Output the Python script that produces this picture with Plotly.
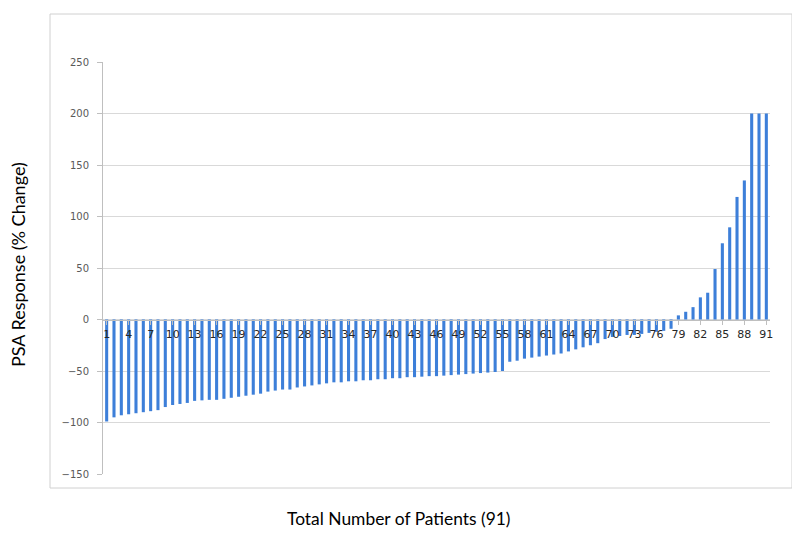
import plotly.graph_objects as go

# patients 1..91, PSA % change
patients = list(range(1, 92))
psa_change = [
    -99, -95, -93, -92, -91, -90, -89, -88, -85, -83,
    -82, -81, -79, -78.5, -78, -78, -77, -76, -75, -74,
    -73, -72, -70, -69, -68, -68, -66, -65, -64, -63,
    -62, -61, -61, -60, -60, -59, -59, -58, -58, -57,
    -57, -56, -56, -55.5, -55, -55, -54.5, -54, -53.5, -53,
    -52.5, -52, -51.5, -51, -50, -41, -40, -38, -37, -36,
    -35, -34, -33, -31, -29, -27, -25, -23, -19, -17,
    -16, -15, -15, -14, -13, -12, -11, -9, 4, 7.5,
    12, 21.5, 26, 49, 74, 89.5, 119, 135, 200, 200, 200,
]
x_ticks = [str(p) for p in patients if (p - 1) % 3 == 0]
y_ticks = [-150, -100, -50, 0, 50, 100, 150, 200, 250]

fig = go.Figure()
fig.add_trace(go.Bar(
    x=[str(p) for p in patients], y=psa_change,
    marker=dict(color="#3d7fd9", line=dict(width=0)),
    hoverinfo="x+y",
))

# page body has an 8px margin, so everything is laid out 8px up/left
OFF = 8
L, R, T, B = 103 - OFF, 22, 62 - OFF, 58
W, H = 784, 524
pw, ph = W - L - R, H - T - B

fig.update_layout(
    width=W, height=H,
    margin=dict(l=L, r=R, t=T, b=B),
    paper_bgcolor="white", plot_bgcolor="white",
    bargap=0.58, showlegend=False,
    font=dict(family="DejaVu Sans", color="#595959"),
)
fig.update_yaxes(
    range=[-150, 250], tickvals=y_ticks,
    showgrid=True, gridcolor="#d9d9d9", gridwidth=1,
    zeroline=False, showline=True, linecolor="#bfbfbf", linewidth=1,
    ticks="outside", ticklen=5, tickcolor="#bfbfbf",
    tickfont=dict(size=10, color="#595959", family="DejaVu Sans"),
    ticklabelstandoff=6,
)
fig.update_xaxes(
    type="category", categoryorder="array", categoryarray=[str(p) for p in patients],
    range=[-0.5, 90.5],
    anchor="free", position=150 / 400,
    tickvals=x_ticks, ticktext=x_ticks,
    showline=True, linecolor="#bfbfbf", linewidth=1,
    ticks="outside", ticklen=4, tickcolor="#bfbfbf",
    tickfont=dict(size=11, color="#262626", family="DejaVu Sans"),
    showgrid=False,
)


def px_x(v):
    return (v - OFF - L) / pw


def px_y(v):
    return (H - B - (v - OFF)) / ph


# chart frame around plot
fig.add_shape(
    type="rect", xref="paper", yref="paper",
    x0=px_x(50), x1=px_x(792), y0=px_y(488), y1=px_y(14),
    line=dict(color="#d0d0d0", width=1), layer="below",
)

# axis titles placed by pixel position
fig.add_annotation(
    text="Total Number of Patients (91)", xref="paper", yref="paper",
    x=px_x(399), y=px_y(518), yanchor="middle", showarrow=False,
    font=dict(size=17.4, color="#000000", family="Lato"),
)
fig.add_annotation(
    text="PSA Response (% Change)", xref="paper", yref="paper",
    x=px_x(18), y=px_y(265), xanchor="center", showarrow=False, textangle=-90,
    font=dict(size=18, color="#000000", family="Lato"),
)

fig.write_html("out.html")
